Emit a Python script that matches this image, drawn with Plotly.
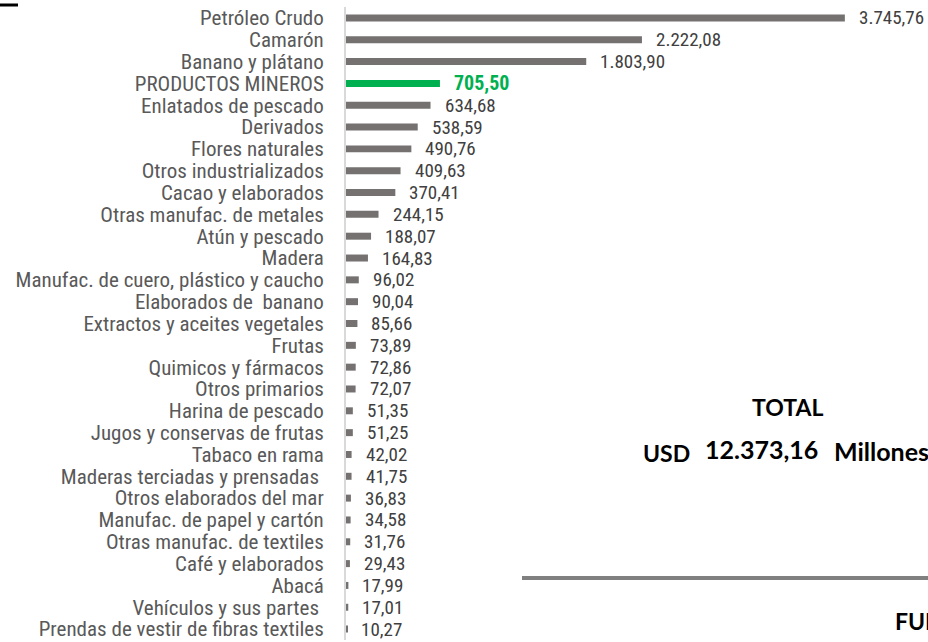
import plotly.graph_objects as go

categories = [
    "Petróleo Crudo", "Camarón", "Banano y plátano", "PRODUCTOS MINEROS",
    "Enlatados de pescado", "Derivados", "Flores naturales", "Otros industrializados",
    "Cacao y elaborados", "Otras manufac. de metales", "Atún y pescado", "Madera",
    "Manufac. de cuero, plástico y caucho", "Elaborados de  banano",
    "Extractos y aceites vegetales", "Frutas", "Quimicos y fármacos", "Otros primarios",
    "Harina de pescado", "Jugos y conservas de frutas", "Tabaco en rama",
    "Maderas terciadas y prensadas ", "Otros elaborados del mar",
    "Manufac. de papel y cartón", "Otras manufac. de textiles", "Café y elaborados",
    "Abacá", "Vehículos y sus partes ", "Prendas de vestir de fibras textiles",
]
values = [
    3745.76, 2222.08, 1803.90, 705.50, 634.68, 538.59, 490.76, 409.63, 370.41,
    244.15, 188.07, 164.83, 96.02, 90.04, 85.66, 73.89, 72.86, 72.07, 51.35,
    51.25, 42.02, 41.75, 36.83, 34.58, 31.76, 29.43, 17.99, 17.01, 10.27,
]
highlight = "PRODUCTOS MINEROS"
total_label = "TOTAL"
total_currency = "USD"
total_value = "12.373,16"
total_unit = "Millones"
source_text = "FUENTE: BCE"

GRAY = "#757171"
GREEN = "#00B050"
NARROW = "Roboto Condensed, Liberation Sans Narrow, Arial Narrow, sans-serif"
BOLD = "Lato, Open Sans, sans-serif"


def fmt(v):
    s = f"{v:,.2f}"
    return s.replace(",", "X").replace(".", ",").replace("X", ".")


colors = [GREEN if c == highlight else GRAY for c in categories]

fig = go.Figure()
fig.add_trace(go.Bar(
    x=values, y=categories, orientation="h",
    marker=dict(color=colors, line=dict(width=0)),
    width=0.32, hoverinfo="x+y",
))

for c, v in zip(categories, values):
    hl = c == highlight
    fig.add_annotation(
        x=v, y=c, xref="x", yref="y", text=("<b>%s</b>" % fmt(v)) if hl else fmt(v),
        showarrow=False, xanchor="left", yanchor="middle", xshift=12,
        font=dict(family=NARROW, size=19 if not hl else 20, color=GREEN if hl else "#404040"),
    )

fig.update_layout(
    width=928, height=642,
    margin=dict(l=346, r=0, t=7, b=2),
    paper_bgcolor="white", plot_bgcolor="white",
    showlegend=False,
    xaxis=dict(range=[0, 4370], visible=False, fixedrange=True),
    yaxis=dict(
        categoryorder="array", categoryarray=categories[::-1],
        tickmode="array", tickvals=categories, ticktext=categories,
        autorange=False, range=[-0.5, len(categories) - 0.5],
        showline=True, linecolor="#D9D9D9", linewidth=2,
        showgrid=False, zeroline=False, ticks="", ticklen=0,
        tickfont=dict(family=NARROW, size=21, color="#595959"),
        ticklabelstandoff=16, fixedrange=True,
    ),
    font=dict(family=NARROW),
)

# pixel -> paper coordinate helpers
pw, ph = 928 - 346, 642 - 7 - 2


def px(xp):
    return (xp - 346) / pw


def py(yp):
    return (642 - 2 - yp) / ph


def txt(xp, yp, text, size, anchor="left"):
    fig.add_annotation(x=px(xp), y=py(yp), xref="paper", yref="paper",
                       text="<b>%s</b>" % text, showarrow=False,
                       xanchor=anchor, yanchor="middle",
                       font=dict(family=BOLD, size=size, color="black"))


txt(787, 407, total_label, 23, "center")
txt(641, 453, total_currency, 23)
txt(703, 449, total_value, 25)
txt(832, 451, total_unit, 25)
txt(893, 621, source_text, 23)

fig.add_shape(type="line", xref="paper", yref="paper",
              x0=px(522), x1=px(940), y0=py(578), y1=py(578),
              line=dict(color="#808080", width=4))
fig.add_shape(type="line", xref="paper", yref="paper",
              x0=px(0), x1=px(18), y0=py(5), y1=py(5),
              line=dict(color="black", width=3))

fig.write_html("out.html", config={"displayModeBar": False},
               post_script="document.body.style.margin='0';document.body.style.overflow='hidden';")
